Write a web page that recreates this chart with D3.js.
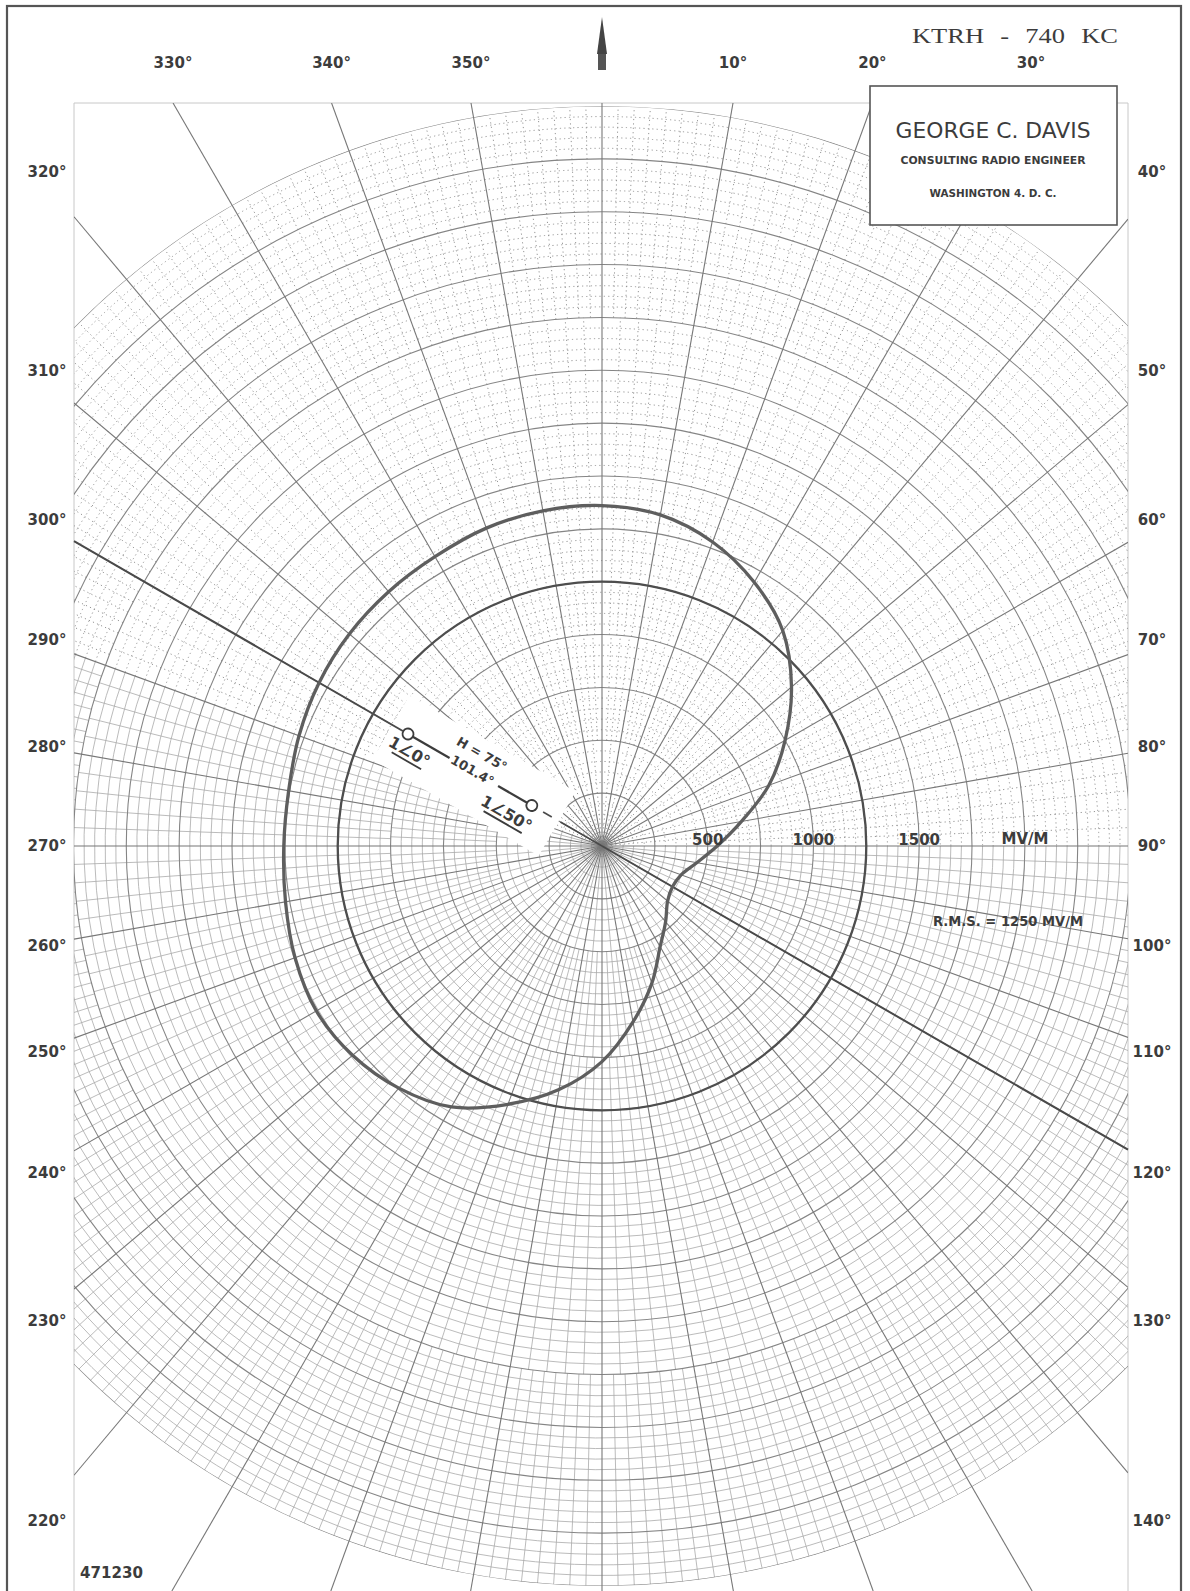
<!DOCTYPE html>
<html>
<head>
<meta charset="utf-8">
<script src="https://cdn.jsdelivr.net/npm/d3@7/dist/d3.min.js"></script>
<style>
  body { margin: 0; background: #fff; }
  text { font-family: "DejaVu Sans", sans-serif; fill: #3c3c3c; }
</style>
</head>
<body>
<div id="chart"></div>
<script>
var bearings = [0, 10, 20, 30, 40, 50, 60, 70, 80, 90, 100, 110,
                120, 130, 140, 150, 160, 170, 180, 190, 200, 210, 220, 230,
                240, 250, 260, 270, 280, 290, 300, 310, 320, 330, 340, 350];
var fieldMvm = [1610, 1590, 1530, 1440, 1330, 1170, 1000, 840, 670, 545, 455, 398,
                385, 405, 468, 550, 690, 845, 1020, 1170, 1300, 1425, 1495, 1540,
                1560, 1545, 1520, 1505, 1505, 1525, 1545, 1560, 1570, 1580, 1600, 1610];

// Paper rings and labels
var ringValues = [250, 500, 750, 1000, 1250, 1500, 1750, 2000, 2250, 2500, 2750, 3000, 3250, 3500];
var scaleLabelValues = [500, 1000, 1500];
var rmsValue = 1250;
var topLabels = [330, 340, 350, 10, 20, 30];
var leftLabels = [320, 310, 300, 290, 280, 270, 260, 250, 240, 230, 220];
var rightLabels = [40, 50, 60, 70, 80, 90, 100, 110, 120, 130, 140];
var towerBearing = 300;

window.onload = drawChart;

function drawChart() {
    var width = 1190, height = 1591;
    var cx = 602, cy = 846;
    var gridLeft = 74, gridRight = 1128, gridTop = 103;

    var svg = d3.select("#chart").append("svg")
        .attr("width", width)
        .attr("height", height);

    // radius scale, mV/m -> px
    var r = d3.scaleLinear().domain([0, 3500]).range([0, 740]);
    var rad = function (d) { return d * Math.PI / 180; };
    function pt(b, rr) {
        return [cx + rr * Math.sin(rad(b)), cy - rr * Math.cos(rad(b))];
    }
    // upper part of the sheet is printed dotted, the lower part solid
    function isDotted(b) {
        b = ((b % 360) + 360) % 360;
        return b > 290 || b < 90;
    }
    function arcPath(rr, b0, b1) {
        var p = d3.path();
        var a0 = rad(b0 - 90), a1 = rad(b1 - 90);
        p.moveTo(cx + rr * Math.cos(a0), cy + rr * Math.sin(a0));
        p.arc(cx, cy, rr, a0, a1);
        return p.toString();
    }

    var defs = svg.append("defs");
    defs.append("clipPath").attr("id", "rectClip").append("rect")
        .attr("x", gridLeft).attr("y", gridTop)
        .attr("width", gridRight - gridLeft).attr("height", height - gridTop);
    defs.append("clipPath").attr("id", "circClip").append("circle")
        .attr("cx", cx).attr("cy", cy).attr("r", r(3500));

    // outer frame
    svg.append("rect")
        .attr("x", 7).attr("y", 6).attr("width", 1174).attr("height", height + 10)
        .style("fill", "none").style("stroke", "#555").style("stroke-width", 2.2);

    // faint inner border of the printed sheet
    svg.append("path")
        .attr("d", "M" + gridLeft + "," + height + "V" + gridTop + "H" + gridRight + "V" + height)
        .style("fill", "none").style("stroke", "#c8c8c8").style("stroke-width", 1);

    var outer = svg.append("g").attr("clip-path", "url(#rectClip)");
    var grid = outer.append("g").attr("clip-path", "url(#circClip)");

    // minor rings every 50 mV/m
    var minorRings = d3.range(50, 3500, 50).filter(function (v) { return v % 250 !== 0; });
    grid.selectAll(".minor-ring-solid")
        .data(minorRings).enter().append("path")
        .attr("class", "minor-ring-solid")
        .attr("d", function (v) { return arcPath(r(v), 90, 290); })
        .style("fill", "none").style("stroke", "#a9a9a9").style("stroke-width", 0.8);
    grid.selectAll(".minor-ring-dot")
        .data(minorRings).enter().append("path")
        .attr("class", "minor-ring-dot")
        .attr("d", function (v) { return arcPath(r(v), 290, 450); })
        .style("fill", "none").style("stroke", "#959595").style("stroke-width", 1)
        .style("stroke-dasharray", "1.2,3.2");

    // minor radials, denser further out
    var bands = [
        { from: 0, to: 250, step: 5 },
        { from: 250, to: 500, step: 5 },
        { from: 500, to: 1000, step: 2.5 },
        { from: 1000, to: 2500, step: 2 },
        { from: 2500, to: 3500, step: 1.25 }
    ];
    var minorRadials = [];
    bands.forEach(function (band) {
        d3.range(0, 360, band.step).forEach(function (b) {
            if (Math.abs(b % 10) > 1e-6) minorRadials.push({ b: b, r0: band.from, r1: band.to });
        });
    });
    grid.selectAll(".minor-radial")
        .data(minorRadials).enter().append("line")
        .attr("class", "minor-radial")
        .attr("x1", function (d) { return pt(d.b, r(d.r0))[0]; })
        .attr("y1", function (d) { return pt(d.b, r(d.r0))[1]; })
        .attr("x2", function (d) { return pt(d.b, r(d.r1))[0]; })
        .attr("y2", function (d) { return pt(d.b, r(d.r1))[1]; })
        .style("stroke", function (d) { return isDotted(d.b) ? "#959595" : "#a9a9a9"; })
        .style("stroke-width", function (d) { return isDotted(d.b) ? 1 : 0.8; })
        .style("stroke-dasharray", function (d) { return isDotted(d.b) ? "1.2,3.2" : null; });

    // major rings
    grid.selectAll(".ring")
        .data(ringValues).enter().append("circle")
        .attr("class", "ring")
        .attr("cx", cx).attr("cy", cy)
        .attr("r", function (v) { return r(v); })
        .style("fill", "none").style("stroke", "#858585").style("stroke-width", 1.1);

    // major radials every 10 degrees, carried out to the sheet border
    var majorBearings = d3.range(0, 360, 10);
    function borderT(b) {
        var dx = Math.sin(rad(b)), dy = -Math.cos(rad(b));
        var ts = [];
        if (dx < -1e-9) ts.push((gridLeft - cx) / dx);
        if (dx > 1e-9) ts.push((gridRight - cx) / dx);
        if (dy < -1e-9) ts.push((gridTop - cy) / dy);
        if (dy > 1e-9) ts.push((height - cy) / dy);
        return d3.min(ts);
    }
    outer.selectAll(".radial")
        .data(majorBearings).enter().append("line")
        .attr("class", "radial")
        .attr("x1", cx).attr("y1", cy)
        .attr("x2", function (b) { return pt(b, borderT(b))[0]; })
        .attr("y2", function (b) { return pt(b, borderT(b))[1]; })
        .style("stroke", "#777").style("stroke-width", 1.1);

    // knock-out behind the tower sketch
    var tower = svg.append("g")
        .attr("transform", "translate(" + cx + "," + cy + ") rotate(" + (towerBearing - 270) + ")");
    tower.append("rect")
        .attr("x", -242).attr("y", -34).attr("width", 192).attr("height", 74)
        .style("fill", "#fff");

    // bold line through the towers (300 - 120 degrees)
    var tOut = borderT(towerBearing);
    var tIn = borderT(towerBearing - 180);
    tower.append("line").attr("x1", -tOut).attr("y1", 0).attr("x2", -230).attr("y2", 0)
        .style("stroke", "#4a4a4a").style("stroke-width", 2);
    tower.append("line").attr("x1", 0).attr("y1", 0).attr("x2", tIn).attr("y2", 0)
        .style("stroke", "#4a4a4a").style("stroke-width", 2);
    tower.append("line").attr("x1", -48).attr("y1", 0).attr("x2", 0).attr("y2", 0)
        .style("stroke", "#4a4a4a").style("stroke-width", 1.6);
    tower.append("line").attr("x1", -68).attr("y1", 0).attr("x2", -58).attr("y2", 0)
        .style("stroke", "#4a4a4a").style("stroke-width", 1.6);
    // tower 1
    tower.append("line").attr("x1", -219).attr("y1", 0).attr("x2", -176).attr("y2", 0)
        .style("stroke", "#3c3c3c").style("stroke-width", 2.2);
    tower.append("circle").attr("cx", -224).attr("cy", 0).attr("r", 5.5)
        .style("fill", "#fff").style("stroke", "#3c3c3c").style("stroke-width", 1.8);
    // tower 2
    tower.append("line").attr("x1", -120).attr("y1", 0).attr("x2", -86).attr("y2", 0)
        .style("stroke", "#3c3c3c").style("stroke-width", 2.2);
    tower.append("circle").attr("cx", -81).attr("cy", 0).attr("r", 5.5)
        .style("fill", "#fff").style("stroke", "#3c3c3c").style("stroke-width", 1.8);

    tower.append("text").attr("x", -150).attr("y", -15).attr("text-anchor", "middle")
        .style("font-size", "13px").style("font-weight", "bold").text("H = 75°");
    tower.append("text").attr("x", -150).attr("y", 4).attr("text-anchor", "middle")
        .style("font-size", "13px").style("font-weight", "bold").text("101.4°");
    tower.append("text").attr("x", -214).attr("y", 20).attr("text-anchor", "middle")
        .style("font-size", "16px").style("font-weight", "bold").text("1∠0°");
    tower.append("text").attr("x", -99).attr("y", 25).attr("text-anchor", "middle")
        .style("font-size", "16px").style("font-weight", "bold").text("1∠50°");
    tower.append("line").attr("x1", -229).attr("y1", 24).attr("x2", -195).attr("y2", 24)
        .style("stroke", "#3c3c3c").style("stroke-width", 1.8);
    tower.append("line").attr("x1", -120).attr("y1", 29).attr("x2", -76).attr("y2", 29)
        .style("stroke", "#3c3c3c").style("stroke-width", 1.8);

    // RMS circle
    svg.append("circle")
        .attr("cx", cx).attr("cy", cy).attr("r", r(rmsValue))
        .style("fill", "none").style("stroke", "#4e4e4e").style("stroke-width", 2.3);

    // pattern
    var patternData = bearings.map(function (b, i) { return { b: b, v: fieldMvm[i] }; });
    var line = d3.lineRadial()
        .angle(function (d) { return rad(d.b); })
        .radius(function (d) { return r(d.v); })
        .curve(d3.curveCatmullRomClosed.alpha(0.5));
    svg.append("path")
        .datum(patternData)
        .attr("transform", "translate(" + cx + "," + cy + ")")
        .attr("d", line)
        .style("fill", "none").style("stroke", "#5e5e5e").style("stroke-width", 3.3);

    // scale labels along 90 degrees
    svg.selectAll(".scale-label")
        .data(scaleLabelValues).enter().append("text")
        .attr("class", "scale-label")
        .attr("x", function (v) { return cx + r(v); })
        .attr("y", cy - 1)
        .attr("text-anchor", "middle")
        .style("font-size", "15px").style("font-weight", "bold")
        .text(function (v) { return v; });
    svg.append("text").attr("x", 1025).attr("y", cy - 2).attr("text-anchor", "middle")
        .style("font-size", "15px").style("font-weight", "bold").text("MV/M");
    svg.append("text").attr("x", 1008).attr("y", 926).attr("text-anchor", "middle")
        .attr("textLength", 150).attr("lengthAdjust", "spacingAndGlyphs")
        .style("font-size", "14px").style("font-weight", "bold").text("R.M.S. = 1250 MV/M");

    // bearing labels
    var labelStyle = function (sel) {
        sel.attr("text-anchor", "middle").attr("dy", "0.36em")
            .style("font-size", "15px").style("font-weight", "bold");
    };
    svg.selectAll(".top-label")
        .data(topLabels).enter().append("text")
        .attr("class", "top-label")
        .attr("x", function (b) { return cx + (cy - gridTop) * Math.tan(rad(b)); })
        .attr("y", 63)
        .call(labelStyle)
        .text(function (b) { return b + "°"; });
    svg.selectAll(".left-label")
        .data(leftLabels).enter().append("text")
        .attr("class", "left-label")
        .attr("x", 47)
        .attr("y", function (b) { return cy + 566 * Math.cos(rad(b)) / Math.sin(rad(b)); })
        .call(labelStyle)
        .text(function (b) { return b + "°"; });
    svg.selectAll(".right-label")
        .data(rightLabels).enter().append("text")
        .attr("class", "right-label")
        .attr("x", 1152)
        .attr("y", function (b) { return cy - 566 * Math.cos(rad(b)) / Math.sin(rad(b)); })
        .call(labelStyle)
        .text(function (b) { return b + "°"; });

    // north arrow
    svg.append("path")
        .attr("d", "M" + cx + ",17 L" + (cx + 5) + ",54 L" + (cx - 5) + ",54 Z")
        .style("fill", "#444");
    svg.append("rect")
        .attr("x", cx - 4).attr("y", 54).attr("width", 8).attr("height", 16)
        .style("fill", "#555");

    // station title
    svg.append("text").attr("x", 1015).attr("y", 43).attr("text-anchor", "middle")
        .attr("textLength", 206).attr("lengthAdjust", "spacingAndGlyphs")
        .style("font-family", "'Liberation Serif', 'DejaVu Serif', serif")
        .style("font-size", "22px").style("word-spacing", "8px").text("KTRH - 740 KC");

    // engineer's box
    svg.append("rect")
        .attr("x", 870).attr("y", 86).attr("width", 247).attr("height", 139)
        .style("fill", "#fff").style("stroke", "#555").style("stroke-width", 1.6);
    svg.append("text").attr("x", 993).attr("y", 138).attr("text-anchor", "middle")
        .attr("textLength", 195).attr("lengthAdjust", "spacingAndGlyphs")
        .style("font-size", "21px").text("GEORGE C. DAVIS");
    svg.append("text").attr("x", 993).attr("y", 164).attr("text-anchor", "middle")
        .attr("textLength", 185).attr("lengthAdjust", "spacingAndGlyphs")
        .style("font-size", "10px").style("font-weight", "bold").text("CONSULTING RADIO ENGINEER");
    svg.append("text").attr("x", 993).attr("y", 197).attr("text-anchor", "middle")
        .attr("textLength", 127).attr("lengthAdjust", "spacingAndGlyphs")
        .style("font-size", "10px").style("font-weight", "bold").text("WASHINGTON 4. D. C.");

    // sheet number
    svg.append("text").attr("x", 80).attr("y", 1578)
        .attr("textLength", 63).attr("lengthAdjust", "spacingAndGlyphs")
        .style("font-size", "15px").style("font-weight", "bold").text("471230");
}
</script>
</body>
</html>
